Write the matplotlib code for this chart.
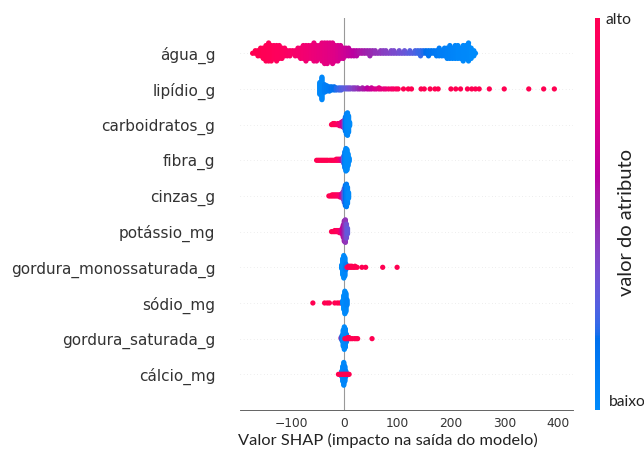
import numpy as np
import matplotlib
matplotlib.use("Agg")
import matplotlib.pyplot as plt
from matplotlib.colors import LinearSegmentedColormap
from matplotlib.cm import ScalarMappable

# ---------------- data (top row first) ----------------
features = ["água_g", "lipídio_g", "carboidratos_g", "fibra_g", "cinzas_g",
            "potássio_mg", "gordura_monossaturada_g", "sódio_mg",
            "gordura_saturada_g", "cálcio_mg"]

agua_shap = [-172, -167, -162, -157, -152, -147, -142, -137, -132, -127, -122, -117,
             -112, -107, -102, -97, -92, -87, -82, -77, -72, -67, -62, -57, -52, -47,
             -42, -37, -32, -27, -22, -17, -12, -7, -2, 3, 8, 13, 18, 23, 28, 33, 38,
             43, 48, 53, 58, 63, 68, 73, 78, 83, 88, 93, 98, 103, 108, 113, 118, 123,
             128, 133, 138, 143, 148, 153, 158, 163, 168, 173, 178, 183, 188, 193,
             198, 203, 208, 213, 218, 223, 228, 233, 238, 243, 246]
agua_n = [1, 2, 3, 4, 5, 7, 8, 7, 6, 7, 6, 5, 4, 3, 3, 2, 3, 4, 5, 6, 7, 6, 6, 8, 7, 6,
          8, 9, 9, 8, 9, 7, 7, 6, 5, 4, 4, 3, 3, 3, 2, 2, 2, 2, 3, 2, 2, 1, 2, 2, 2, 1,
          2, 2, 1, 2, 1, 2, 1, 2, 1, 2, 2, 3, 2, 2, 3, 2, 2, 3, 4, 3, 4, 5, 6, 5, 6, 6,
          5, 7, 6, 8, 5, 3, 1]
agua_cor = [1.0, 1.0, 1.0, 1.0, 0.98, 0.98, 0.97, 0.97, 0.96, 0.95, 0.95, 0.94, 0.93,
            0.92, 0.91, 0.9, 0.89, 0.88, 0.87, 0.86, 0.85, 0.84, 0.83, 0.82, 0.81, 0.8,
            0.79, 0.78, 0.77, 0.76, 0.75, 0.74, 0.72, 0.7, 0.68, 0.66, 0.64, 0.62, 0.6,
            0.58, 0.56, 0.54, 0.52, 0.5, 0.49, 0.48, 0.46, 0.45, 0.44, 0.42, 0.41, 0.4,
            0.38, 0.37, 0.36, 0.34, 0.33, 0.32, 0.3, 0.28, 0.27, 0.25, 0.23, 0.22, 0.2,
            0.18, 0.16, 0.15, 0.13, 0.12, 0.1, 0.09, 0.08, 0.07, 0.06, 0.05, 0.04, 0.03,
            0.03, 0.02, 0.02, 0.01, 0.0, 0.0, 0.0]

lipidio_shap = [-46, -42, -37, -33, -28, -24, -19, -15, -10, -6, -2, 3, 7, 11, 16, 20,
                25, 29, 34, 38, 43, 47, 51, 56, 60, 65, 69, 74, 78, 83, 88, 92, 97, 101,
                111, 120, 126, 144, 150, 161, 170, 176, 200, 209, 218, 231, 239, 246,
                253, 272, 300, 346, 374, 394]
lipidio_n = [12, 22, 8, 6, 5, 4, 4, 3, 3, 3, 2, 2, 2, 2, 2, 2, 2, 1, 2, 1, 2, 1, 2, 1, 1,
             2, 1, 1, 1, 1, 1, 1, 1, 1, 1, 1, 1, 1, 1, 1, 1, 1, 1, 1, 1, 1, 1, 1, 1, 1,
             1, 1, 1, 1]
lipidio_cor = [0.02, 0.03, 0.08, 0.1, 0.12, 0.15, 0.17, 0.2, 0.22, 0.25, 0.28, 0.3, 0.33,
               0.36, 0.4, 0.43, 0.46, 0.5, 0.52, 0.56, 0.6, 0.63, 0.66, 0.7, 0.72, 0.75,
               0.78, 0.8, 0.82, 0.85, 0.88, 0.9, 0.92, 0.94, 1.0, 1.0, 1.0, 1.0, 1.0, 1.0,
               1.0, 1.0, 1.0, 1.0, 1.0, 1.0, 1.0, 1.0, 1.0, 1.0, 1.0, 1.0, 1.0, 1.0]

carbo_shap = [-24, -21, -18, -15, -12, -9, -6, -3, 0, 2, 4, 6, 8, 10]
carbo_n = [1, 2, 2, 1, 2, 3, 4, 6, 8, 14, 20, 22, 16, 4]
carbo_cor = [1.0, 1.0, 0.97, 0.95, 0.92, 0.88, 0.8, 0.65, 0.4, 0.15, 0.06, 0.03, 0.01, 0.0]

fibra_shap = [-52, -49, -46, -43, -40, -37, -34, -31, -27, -24, -21, -18, -15, -12, -9,
              -6, -3, -1, 1, 3, 5, 7, 9]
fibra_n = [1, 1, 1, 1, 1, 1, 1, 1, 1, 1, 1, 1, 2, 2, 2, 2, 4, 8, 16, 22, 20, 12, 4]
fibra_cor = [1.0, 1.0, 1.0, 1.0, 1.0, 1.0, 1.0, 1.0, 1.0, 1.0, 1.0, 0.98, 0.97, 0.95,
             0.9, 0.75, 0.5, 0.3, 0.1, 0.03, 0.0, 0.0, 0.0]

cinzas_shap = [-29, -26, -23, -20, -17, -14, -11, -8, -5, -2, 0, 2, 4, 6, 8]
cinzas_n = [1, 1, 2, 2, 2, 2, 2, 3, 4, 8, 14, 20, 22, 16, 6]
cinzas_cor = [1.0, 1.0, 1.0, 0.98, 0.97, 0.95, 0.92, 0.88, 0.7, 0.45, 0.3, 0.18, 0.1,
              0.05, 0.0]

potassio_shap = [-24, -21, -18, -15, -12, -9, -6, -4, -2, 0, 2, 4, 6]
potassio_n = [1, 1, 2, 2, 2, 3, 3, 6, 12, 20, 22, 14, 6]
potassio_cor = [1.0, 1.0, 1.0, 0.97, 0.95, 0.92, 0.85, 0.7, 0.6, 0.5, 0.45, 0.35, 0.3]

mono_shap = [-5, -3, -1, 1, 3, 5, 8, 11, 14, 17, 20, 24, 33, 40, 72, 99]
mono_n = [4, 16, 22, 18, 6, 1, 2, 2, 2, 1, 2, 1, 1, 1, 1, 1]
mono_cor = [0.02, 0.0, 0.0, 0.03, 0.1, 0.95, 1.0, 1.0, 1.0, 1.0, 1.0, 1.0, 1.0, 1.0,
            1.0, 1.0]

sodio_shap = [-59, -37, -32, -28, -18, -13, -9, -5, -3, -1, 1, 3, 5]
sodio_n = [1, 1, 1, 1, 1, 1, 1, 1, 4, 14, 22, 18, 6]
sodio_cor = [1.0, 1.0, 1.0, 1.0, 1.0, 1.0, 1.0, 1.0, 0.05, 0.0, 0.0, 0.02, 0.05]

satur_shap = [-6, -4, -2, 0, 2, 4, 6, 1, 3.5, 6.5, 9, 12, 15, 19, 22, 25, 52]
satur_n = [2, 6, 16, 22, 18, 8, 2, 1, 1, 2, 2, 1, 1, 1, 1, 1, 1]
satur_cor = [0.5, 0.1, 0.0, 0.0, 0.02, 0.05, 0.1, 1.0, 1.0, 1.0, 1.0, 1.0, 1.0, 1.0,
             1.0, 1.0, 1.0]

calcio_shap = [-5, -3, -1, 1, 3, -11, -8, -5.5, -3.5, -1.5, 0.5, 2.5, 4.5, 7, 9]
calcio_n = [6, 16, 24, 16, 6, 1, 1, 1, 1, 1, 1, 1, 1, 1, 1]
calcio_cor = [0.0, 0.0, 0.02, 0.05, 0.08, 1.0, 1.0, 1.0, 1.0, 1.0, 1.0, 1.0, 1.0, 1.0,
              1.0]

rows = [(agua_shap, agua_n, agua_cor), (lipidio_shap, lipidio_n, lipidio_cor),
        (carbo_shap, carbo_n, carbo_cor), (fibra_shap, fibra_n, fibra_cor),
        (cinzas_shap, cinzas_n, cinzas_cor), (potassio_shap, potassio_n, potassio_cor),
        (mono_shap, mono_n, mono_cor), (sodio_shap, sodio_n, sodio_cor),
        (satur_shap, satur_n, satur_cor), (calcio_shap, calcio_n, calcio_cor)]

xlabel_text = "Valor SHAP (impacto na saída do modelo)"
cbar_label = "valor do atributo"
cbar_low, cbar_high = "baixo", "alto"


# ---------------- shap red_blue colormap (LCH interpolation) ----------------
def lch_to_rgb(l, c, h):
    a = c * np.cos(h)
    b = c * np.sin(h)
    fy = (l + 16) / 116
    fx = fy + a / 500
    fz = fy - b / 200

    def finv(t):
        return t ** 3 if t > 6 / 29 else 3 * (6 / 29) ** 2 * (t - 4 / 29)
    X, Y, Z = 0.95047 * finv(fx), finv(fy), 1.08883 * finv(fz)
    lin = np.array([3.2406 * X - 1.5372 * Y - 0.4986 * Z,
                    -0.9689 * X + 1.8758 * Y + 0.0415 * Z,
                    0.0557 * X - 0.2040 * Y + 1.0570 * Z])
    lin = np.clip(lin, 0, None)
    rgb = np.where(lin > 0.0031308, 1.055 * lin ** (1 / 2.4) - 0.055, 12.92 * lin)
    return np.clip(rgb, 0, 1)


blue_lch = [54., 70., 4.6588]
red_lch = [54., 90., 0.35470565 + 2 * np.pi]
nsteps = 100
l_vals = list(np.linspace(blue_lch[0], 40., nsteps // 2)) + list(np.linspace(40., red_lch[0], nsteps // 2))
c_vals = np.linspace(blue_lch[1], red_lch[1], nsteps)
h_vals = np.linspace(blue_lch[2], red_lch[2], nsteps)
cols = [lch_to_rgb(l, c, h) for l, c, h in zip(l_vals, c_vals, h_vals)]
cols[0] = np.array([0., 0.54337757, 0.98337906])
cols[-1] = np.array([1., 0., 0.31796406])
cmap = LinearSegmentedColormap.from_list("red_blue", list(zip(np.linspace(0, 1, nsteps), cols)))


def swarm_offsets(x, row_height=0.4, nbins=100):
    x = np.asarray(x, float)
    quant = np.round(nbins * (x - x.min()) / (x.max() - x.min() + 1e-8))
    inds = np.argsort(quant, kind="stable")
    layer, last = 0, -1
    ys = np.zeros(len(x))
    for i in inds:
        if quant[i] != last:
            layer = 0
        ys[i] = np.ceil(layer / 2) * ((layer % 2) * 2 - 1)
        layer += 1
        last = quant[i]
    ys *= 0.9 * (row_height / np.max(ys + 1))
    return ys


# ---------------- figure ----------------
DPI = 80.5
W, H = 644, 449
fig = plt.figure(figsize=(W / DPI, H / DPI), dpi=DPI)
ax = fig.add_axes([240 / W, 1 - 410 / H, (573 - 240) / W, (410 - 17.6) / H])

n = len(features)
for i, (sv, cnt, cv) in enumerate(rows):
    pos = n - 1 - i
    ax.axhline(pos, color="#cccccc", lw=0.5, dashes=(1, 5), zorder=-1)
    x = np.repeat(np.asarray(sv, float), cnt)
    c = np.repeat(np.asarray(cv, float), cnt)
    ys = swarm_offsets(x)
    ax.scatter(x, pos + ys, c=c, cmap=cmap, vmin=0, vmax=1, s=22,
               linewidth=0, zorder=3)

ax.axvline(0, color="#999999", lw=1, zorder=-1)
ax.set_xlim(-195.7, 429)
ax.set_ylim(-1, n)
ax.set_yticks(range(n))
ax.set_yticklabels(features[::-1], fontsize=13.6, color="#333333")
ax.set_xticks([-100, 0, 100, 200, 300, 400])
ax.tick_params('y', length=0, pad=22)
ax.tick_params('x', labelsize=11, labelcolor="#333333", length=0, pad=6)
for s in ("top", "right", "left"):
    ax.spines[s].set_visible(False)
ax.spines["bottom"].set_color("#555555")

fig.text(238 / W, 1 - 440 / H, xlabel_text, ha="left", va="center",
         fontsize=14.7, family="Lato", color="#222222")

# colour bar
cax = fig.add_axes([595 / W, 1 - 410 / H, 4.5 / W, 392.4 / H])
sm = ScalarMappable(cmap=cmap)
sm.set_array([0, 1])
cb = fig.colorbar(sm, cax=cax, ticks=[])
cb.outline.set_visible(False)
fig.text(605 / W, 1 - 20 / H, cbar_high, ha="left", va="center",
         fontsize=14, family="Lato", color="#222222")
fig.text(609 / W, 1 - 402 / H, cbar_low, ha="left", va="center",
         fontsize=14, family="Lato", color="#222222")
fig.text(627 / W, 1 - 222 / H, cbar_label, ha="center", va="center", rotation=90,
         fontsize=18, family="Lato", color="#222222")

fig.savefig("out.png", dpi=DPI)
